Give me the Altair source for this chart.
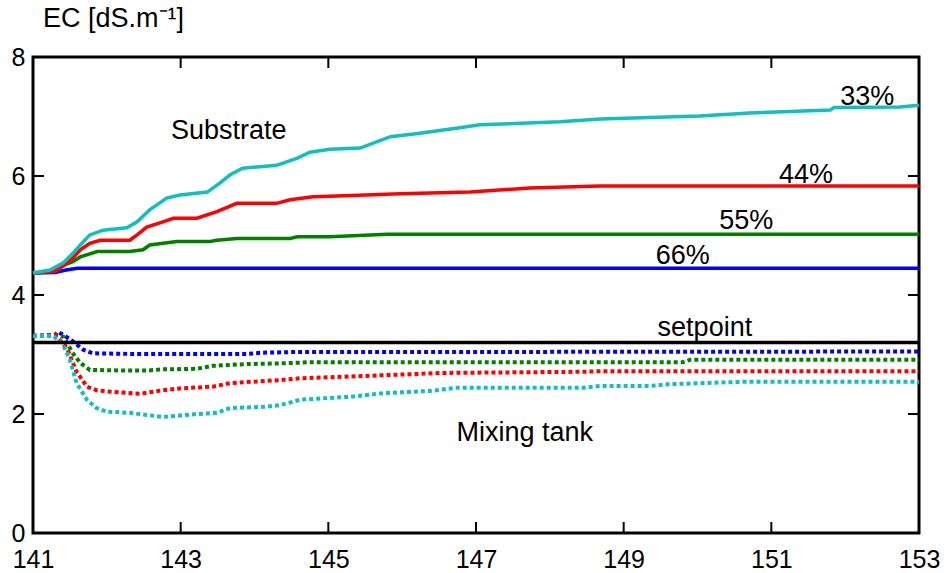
import altair as alt
import pandas as pd

# ---------------- data ----------------
# Substrate EC (solid lines)
sub33_x = [141, 141.23, 141.41, 141.54, 141.64, 141.77, 141.95, 142.27, 142.41, 142.58, 142.81, 142.99,
           143.36, 143.53, 143.67, 143.84, 144.30, 144.58, 144.75, 145.02, 145.43, 145.84, 146.24,
           146.78, 147.05, 148.14, 148.68, 150.03, 150.71, 151.80, 151.85, 152.74, 153]
sub33_y = [4.37, 4.42, 4.54, 4.70, 4.84, 5.01, 5.09, 5.13, 5.23, 5.43, 5.63, 5.68,
           5.73, 5.88, 6.02, 6.13, 6.18, 6.30, 6.40, 6.45, 6.47, 6.66, 6.72,
           6.81, 6.86, 6.91, 6.96, 7.01, 7.06, 7.11, 7.15, 7.16, 7.19]

sub44_x = [141, 141.30, 141.41, 141.54, 141.64, 141.77, 141.91, 142.31, 142.41, 142.54, 142.76, 142.90,
           143.22, 143.49, 143.76, 144.30, 144.48, 144.79, 145.02, 145.97, 146.92, 147.73, 148.68, 153]
sub44_y = [4.37, 4.40, 4.49, 4.62, 4.76, 4.87, 4.92, 4.92, 5.01, 5.14, 5.23, 5.29,
           5.29, 5.40, 5.54, 5.54, 5.60, 5.65, 5.66, 5.70, 5.73, 5.80, 5.83, 5.83]

sub55_x = [141, 141.30, 141.41, 141.54, 141.64, 141.87, 142.31, 142.49, 142.58, 142.95, 143.40, 143.49,
           143.76, 144.48, 144.58, 145.02, 145.80, 153]
sub55_y = [4.37, 4.40, 4.50, 4.56, 4.64, 4.73, 4.73, 4.76, 4.84, 4.90, 4.90, 4.92,
           4.95, 4.95, 4.98, 4.98, 5.02, 5.02]

sub66_x = [141, 141.30, 141.45, 141.60, 153]
sub66_y = [4.37, 4.38, 4.42, 4.45, 4.45]

# Mixing-tank EC (dotted lines)
tank33_x = [141, 141.27, 141.40, 141.50, 141.59, 141.73, 141.86, 142.00, 142.31, 142.76, 143.22, 143.49,
            143.67, 144.12, 144.35, 144.62, 145.30, 145.74, 146.40, 146.72, 148.45, 148.68, 149.35,
            149.60, 150.58, 153]
tank33_y = [3.31, 3.31, 3.19, 2.91, 2.52, 2.24, 2.10, 2.04, 2.02, 1.95, 2.00, 2.02,
            2.10, 2.12, 2.15, 2.24, 2.29, 2.35, 2.39, 2.44, 2.44, 2.47, 2.47,
            2.50, 2.54, 2.54]

tank44_x = [141, 141.30, 141.46, 141.59, 141.73, 141.86, 142.08, 142.45, 142.76, 142.99, 143.44, 143.67,
            143.94, 144.35, 144.62, 145.50, 146.55, 148.45, 148.68, 153]
tank44_y = [3.31, 3.33, 3.11, 2.71, 2.46, 2.40, 2.37, 2.34, 2.40, 2.43, 2.46, 2.52,
            2.54, 2.57, 2.60, 2.64, 2.69, 2.71, 2.72, 2.72]

tank55_x = [141, 141.30, 141.41, 141.54, 141.64, 141.77, 142.31, 142.54, 142.76, 143.22, 143.44, 143.90,
            144.35, 144.75, 149.80, 149.90, 153]
tank55_y = [3.31, 3.33, 3.30, 3.02, 2.86, 2.74, 2.73, 2.73, 2.75, 2.76, 2.81, 2.84,
            2.85, 2.87, 2.87, 2.91, 2.91]

tank66_x = [141, 141.30, 141.33, 141.41, 141.54, 141.68, 141.81, 142.30, 143.90, 144.10, 144.50, 153]
tank66_y = [3.31, 3.33, 3.38, 3.33, 3.22, 3.08, 3.02, 3.01, 3.01, 3.03, 3.04, 3.05]

setpoint_x = [141, 153]
setpoint_y = [3.2, 3.2]

# annotations
ann_text = ["Substrate", "33%", "44%", "55%", "66%", "setpoint", "Mixing tank"]
ann_x = [143.65, 152.30, 151.47, 150.66, 149.80, 150.10, 147.66]
ann_y = [6.76, 7.33, 6.02, 5.24, 4.66, 3.44, 1.68]

x_ticks = [141, 143, 145, 147, 149, 151, 153]
y_ticks = [0, 2, 4, 6, 8]
x_inner_ticks = [143, 145, 147, 149, 151]
y_inner_ticks = [2, 4, 6]

series_colors = {"33%": "#11BFBF", "44%": "#FF0000", "55%": "#008000", "66%": "#0000FF"}

# ---------------- chart ----------------
W, H = 886, 476
FONT = "Liberation Sans"

x_enc = alt.X("x:Q", scale=alt.Scale(domain=[141, 153], nice=False, zero=False),
              axis=alt.Axis(values=x_ticks, title=None, labelFlush=False, labelPadding=14,
                            format="d", labelFont=FONT, labelFontSize=25, labelColor="black",
                            domain=False, ticks=False, grid=False))
y_enc = alt.Y("y:Q", scale=alt.Scale(domain=[0, 8], nice=False),
              axis=alt.Axis(values=y_ticks, title=None, labelPadding=8, format="d",
                            labelFont=FONT, labelFontSize=25, labelColor="black",
                            domain=False, ticks=False, grid=False))


def line_df(xs, ys):
    return pd.DataFrame({"x": xs, "y": ys})


layers = []
# dotted mixing-tank lines (blue, green, red, cyan order so cyan on top)
for xs, ys, key in [(tank66_x, tank66_y, "66%"), (tank55_x, tank55_y, "55%"),
                    (tank44_x, tank44_y, "44%"), (tank33_x, tank33_y, "33%")]:
    layers.append(
        alt.Chart(line_df(xs, ys)).mark_line(color=series_colors[key], strokeWidth=4,
                                             strokeDash=[4, 3])
        .encode(x=x_enc, y=y_enc)
    )
# setpoint
layers.append(
    alt.Chart(line_df(setpoint_x, setpoint_y)).mark_line(color="black", strokeWidth=3.5)
    .encode(x=x_enc, y=y_enc)
)
# substrate lines
for xs, ys, key in [(sub66_x, sub66_y, "66%"), (sub55_x, sub55_y, "55%"),
                    (sub44_x, sub44_y, "44%"), (sub33_x, sub33_y, "33%")]:
    layers.append(
        alt.Chart(line_df(xs, ys)).mark_line(color=series_colors[key], strokeWidth=3.5)
        .encode(x=x_enc, y=y_enc)
    )

# inward ticks
xt = pd.DataFrame({"x": x_inner_ticks})
yt = pd.DataFrame({"y": y_inner_ticks})
tick_style = dict(color="black", strokeWidth=2)
layers.append(alt.Chart(xt).mark_rule(**tick_style).encode(x=x_enc, y=alt.value(H), y2=alt.value(H - 11)))
layers.append(alt.Chart(xt).mark_rule(**tick_style).encode(x=x_enc, y=alt.value(0), y2=alt.value(11)))
layers.append(alt.Chart(yt).mark_rule(**tick_style).encode(y=y_enc, x=alt.value(0), x2=alt.value(11)))
layers.append(alt.Chart(yt).mark_rule(**tick_style).encode(y=y_enc, x=alt.value(W - 11), x2=alt.value(W)))

# annotations
ann = pd.DataFrame({"label": ann_text, "x": ann_x, "y": ann_y})
layers.append(
    alt.Chart(ann).mark_text(font=FONT, fontSize=27, color="black", align="center", baseline="middle")
    .encode(x=x_enc, y=y_enc, text="label:N")
)

chart = (
    alt.layer(*layers)
    .properties(
        width=W, height=H,
        background="white",
        autosize=alt.AutoSizeParams(type="none"),
        padding={"left": 33, "top": 57, "right": 33, "bottom": 40},
        title=alt.TitleParams(text="EC [dS.m⁻¹]", anchor="start", frame="group", dx=10,
                              offset=12, font=FONT, fontSize=27, fontWeight="normal",
                              color="black"),
    )
    .configure_view(stroke="black", strokeWidth=3)
    .configure_axis(domain=False, ticks=False, grid=False, labelFont=FONT, labelFontSize=25,
                    labelColor="black")
)

chart.save("out.html", embed_options={"renderer": "svg", "actions": False})
